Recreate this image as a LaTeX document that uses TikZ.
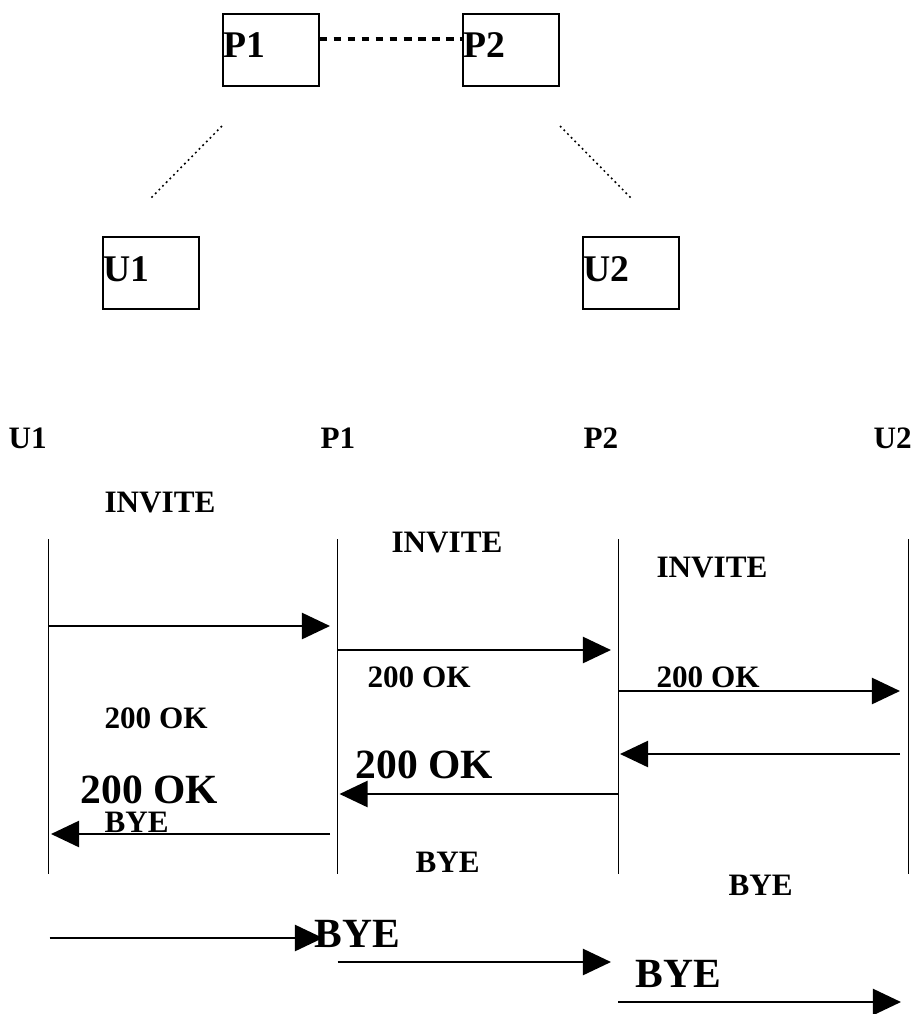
\documentclass[tikz,border=0pt]{standalone}
\usepackage{fontspec}
\setmainfont{Liberation Serif}
\usetikzlibrary{arrows.meta}

\begin{document}
\begin{tikzpicture}[
    x=0.385pt,
    y=-0.385pt,
    box/.style={
        rectangle,
        draw,
        line width=0.5pt,
        minimum width=36.9pt,
        minimum height=27.7pt,
        inner sep=0pt
    },
    tag/.style={font=\fontsize{14.5}{16}\selectfont\bfseries, inner sep=0pt, anchor=base west},
    small/.style={font=\fontsize{12}{14}\selectfont\bfseries, inner sep=0pt, anchor=base west},
    big/.style={font=\fontsize{16}{18}\selectfont\bfseries, inner sep=0pt, anchor=base west},
    link/.style={line width=1.5pt, dash pattern=on 3pt off 2.4pt},
    thin dots/.style={line width=0.6pt, dash pattern=on 0.7pt off 1.3pt},
    lifeline/.style={line width=0.45pt},
    msg/.style={-{Triangle[length=10.8pt, width=10pt]}, line width=1pt}
]
\useasboundingbox (0,0) rectangle (913,1014);

% Topology boxes
\node[box] (p1) at (271,50) {};
\node[box] (p2) at (511,50) {};
\node[box] (u1) at (151,273) {};
\node[box] (u2) at (631,273) {};
\node[tag] (p1txt) at (223,57) {P1};
\node[tag] (p2txt) at (463,57) {P2};
\node[tag] (u1txt) at (103,281) {U1};
\node[tag] (u2txt) at (583,281) {U2};

% Links
\draw[link] ([yshift=4.2pt]p1.east) -- ([yshift=4.2pt]p2.west);
\coordinate (l1a) at (222,126);
\coordinate (l1b) at (151,198);
\coordinate (l2a) at (560,126);
\coordinate (l2b) at (631,198);
\draw[thin dots] (l1a) -- (l1b);
\draw[thin dots] (l2a) -- (l2b);

% Lifeline headers
\node[small] (hu1) at (8,448) {U1};
\node[small] (hp1) at (320,448) {P1};
\node[small] (hp2) at (583,448) {P2};
\node[small] (hu2) at (873,448) {U2};

% Lifelines
\foreach \name/\xx in {u1/48.3, p1/337.7, p2/618.3, u2/908.3} {
    \coordinate (\name top) at (\xx,539);
    \coordinate (\name bot) at (\xx,874);
    \draw[lifeline] (\name top) -- (\name bot);
}

% Messages
\foreach \n/\xa/\xb/\yy in {1/48.3/330/626, 2/337.7/611/650, 3/618.3/900/691,
    4/900/620/754, 5/618.3/339.5/794, 6/330/51/834,
    7/49.5/323/938, 8/337.7/611/962, 9/618.3/901/1002} {
    \coordinate (m\n s) at (\xa,\yy);
    \coordinate (m\n e) at (\xb,\yy);
    \draw[msg] (m\n s) -- (m\n e);
}

% Message labels
\node[small] (inv1) at (104,512) {INVITE};
\node[small] (inv2) at (391,552) {INVITE};
\node[small] (inv3) at (656,577) {INVITE};
\node[small] (ok1) at (367,687) {200 OK};
\node[small] (ok2) at (656,687) {200 OK};
\node[small] (ok3) at (104,728) {200 OK};
\node[big] (ok4) at (355,778) {200 OK};
\node[big] (ok5) at (80,803) {200 OK};
\node[small] (bye1) at (104,832) {BYE};
\node[small] (bye2) at (415,872) {BYE};
\node[small] (bye3) at (728,895) {BYE};
\node[big] (bye4) at (314,947) {BYE};
\node[big] (bye5) at (635,987) {BYE};

\end{tikzpicture}
\end{document}
